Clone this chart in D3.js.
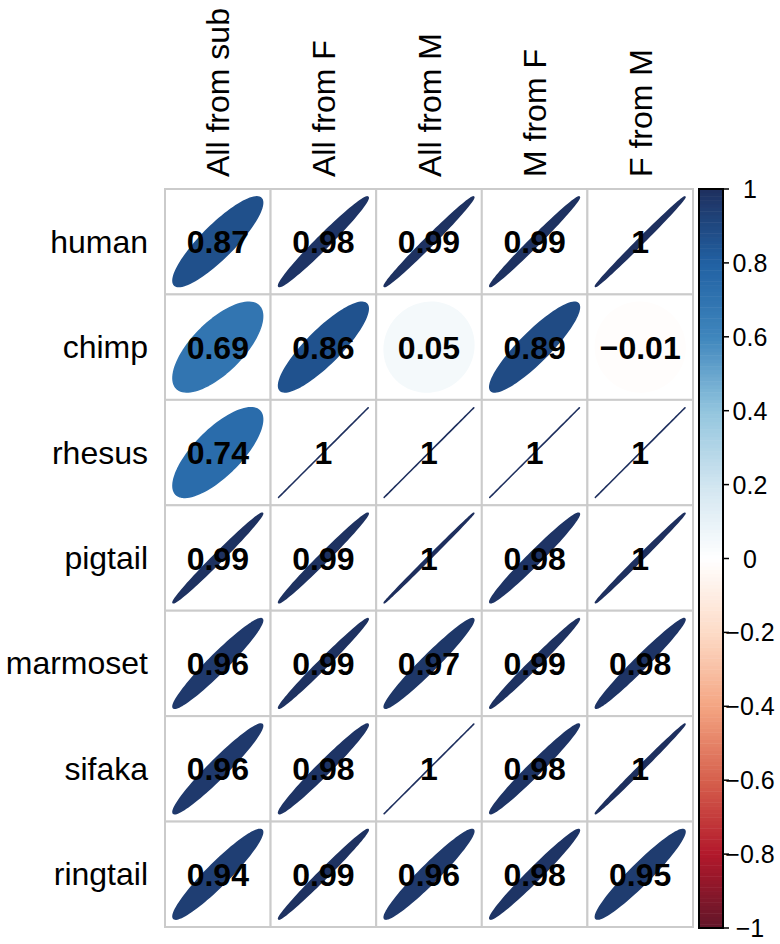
<!DOCTYPE html>
<html>
<head>
<meta charset="utf-8">
<title>Correlation ellipses</title>
<script src="https://cdn.jsdelivr.net/npm/d3@7"></script>
<style>
  html,body{margin:0;padding:0;background:#fff}
  svg{display:block;font-family:"Liberation Sans",Arial,Helvetica,sans-serif}
  .lab{font-size:32px;fill:#000}
  .val{font-size:32px;font-weight:bold;fill:#000}
  .leg text{font-size:25px;fill:#000}
</style>
</head>
<body>
<svg width="780" height="944"></svg>
<script>
// --- data ---
const rowNames = ['human','chimp','rhesus','pigtail','marmoset','sifaka','ringtail'];
const colNames = ['All from sub','All from F','All from M','M from F','F from M'];
const human    = [0.87, 0.98, 0.99, 0.99, 0.996];
const chimp    = [0.69, 0.86, 0.05, 0.89, -0.01];
const rhesus   = [0.74, 1, 1, 1, 1];
const pigtail  = [0.99, 0.99, 0.999, 0.98, 0.997];
const marmoset = [0.96, 0.99, 0.97, 0.99, 0.98];
const sifaka   = [0.96, 0.98, 1, 0.98, 0.997];
const ringtail = [0.94, 0.99, 0.96, 0.98, 0.95];
const legendTicks = [-1,-0.8,-0.6,-0.4,-0.2,0,0.2,0.4,0.6,0.8,1];
const rdbu = ['#611629','#B2182B','#D6604D','#F4A582','#FDDBC7','#FFFFFF',
              '#D1E5F0','#92C5DE','#3F86BD','#2161A3','#1E2F5E'];

const matrix = [human, chimp, rhesus, pigtail, marmoset, sifaka, ringtail];
const cells = [];
matrix.forEach((vals,i)=>vals.forEach((v,j)=>cells.push({row:rowNames[i],col:colNames[j],v})));

const svg = d3.select('svg');

const x = d3.scaleBand().domain(colNames).range([165,693]);
const y = d3.scaleBand().domain(rowNames).range([189,927]);
const color = d3.scaleLinear().domain(legendTicks).range(rdbu).interpolate(d3.interpolateRgb);
const fmt = d3.format('.2~f');

// ellipse outline as in corrplot: x=cos(k+a/2)/2, y=cos(k-a/2)/2, scaled by 0.85
function ellPath(rho, size){
  const a = Math.acos(Math.max(-1,Math.min(1,rho)));
  const pts = d3.range(99).map(i=>{
    const k = i/98*2*Math.PI;
    return [Math.cos(k+a/2)/2*0.85*size, -Math.cos(k-a/2)/2*0.85*size];
  });
  return d3.line()(pts)+'Z';
}

const size = Math.min(x.bandwidth(), y.bandwidth());

// cell backgrounds + grid
svg.append('g').selectAll('rect')
  .data(cells).join('rect')
  .attr('x',d=>x(d.col)).attr('y',d=>y(d.row))
  .attr('width',x.bandwidth()).attr('height',y.bandwidth())
  .attr('fill','#fff').attr('stroke','#CBCBCB').attr('stroke-width',2);

// ellipses
svg.append('g').selectAll('path')
  .data(cells).join('path')
  .attr('transform',d=>`translate(${x(d.col)+x.bandwidth()/2},${y(d.row)+y.bandwidth()/2})`)
  .attr('d',d=>ellPath(d.v,size))
  .attr('fill',d=>color(d.v)).attr('stroke',d=>color(d.v)).attr('stroke-width',1.6)
  .attr('stroke-linejoin','round');

// values
svg.append('g').selectAll('text')
  .data(cells).join('text')
  .attr('class','val')
  .attr('x',d=>x(d.col)+x.bandwidth()/2)
  .attr('y',d=>y(d.row)+y.bandwidth()/2+11.5)
  .attr('text-anchor','middle')
  .text(d=>fmt(Math.round(d.v*100)/100));

// row labels
svg.append('g').selectAll('text')
  .data(rowNames).join('text')
  .attr('class','lab')
  .attr('x',148).attr('y',d=>y(d)+y.bandwidth()/2+11)
  .attr('text-anchor','end').text(d=>d);

// column labels
svg.append('g').selectAll('text')
  .data(colNames).join('text')
  .attr('class','lab')
  .attr('transform',d=>`translate(${x(d)+x.bandwidth()/2+11.5},177) rotate(-90)`)
  .attr('text-anchor','start').text(d=>d);

// colour legend
const ly = d3.scaleLinear().domain([-1,1]).range([928,189]);
const nb = 200;
const bands = d3.range(nb).map(i=>-1+2*i/nb);
const leg = svg.append('g').attr('class','leg');
leg.selectAll('rect.band')
  .data(bands).join('rect').attr('class','band')
  .attr('x',699).attr('width',24)
  .attr('y',d=>ly(d+2/nb)).attr('height',d=>ly(d)-ly(d+2/nb)+0.5)
  .attr('fill',d=>color(d+1/nb));
leg.append('rect')
  .attr('x',699).attr('y',ly(1)).attr('width',24).attr('height',ly(-1)-ly(1))
  .attr('fill','none').attr('stroke','#000').attr('stroke-width',2);
leg.selectAll('line.tick')
  .data(legendTicks).join('line').attr('class','tick')
  .attr('x1',723).attr('x2',729)
  .attr('y1',d=>ly(d)).attr('y2',d=>ly(d))
  .attr('stroke','#000').attr('stroke-width',1.5);
leg.selectAll('text')
  .data(legendTicks).join('text')
  .attr('x',750).attr('y',d=>ly(d)+9)
  .attr('text-anchor','middle')
  .text(d=>d3.format('~g')(d));
</script>
</body>
</html>
